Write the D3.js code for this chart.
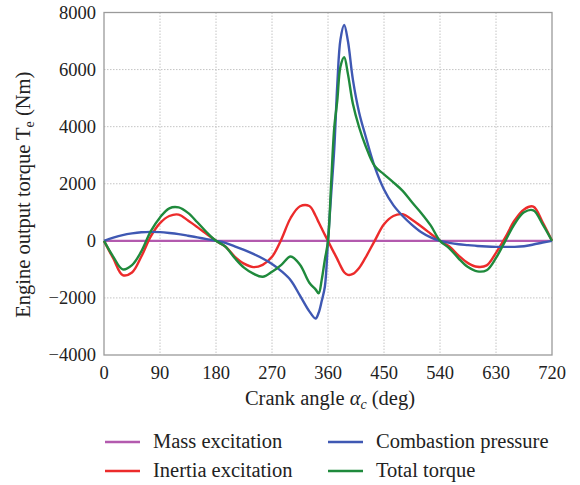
<!DOCTYPE html>
<html>
<head>
<meta charset="utf-8">
<script src="https://cdn.jsdelivr.net/npm/d3@7/dist/d3.min.js"></script>
<style>
  body { margin: 0; background: #fff; }
  svg { display: block; font-family: "Liberation Serif", "DejaVu Serif", serif; }
  .tick-label { font-size: 18.5px; fill: #222; }
  .axis-title { font-size: 20.5px; fill: #222; }
  .legend-text { font-size: 20.5px; fill: #222; }
  .grid line { stroke: #c4c4c4; stroke-width: 1; stroke-dasharray: 1.5,1.5; }
</style>
</head>
<body>
<svg id="chart"></svg>
<script>
// crank angle samples (deg)
const angles = [0, 15, 30, 45, 60, 75, 90, 105, 120, 135, 150, 165, 180,
  195, 210, 225, 240, 255, 270, 285, 300, 315, 330,
  340, 345, 350, 355, 360,
  365, 370, 375, 380, 386, 392, 400, 410, 420,
  435, 450, 465, 480, 495, 510, 525, 540,
  555, 570, 585, 600, 615, 630, 645, 660, 675, 690, 705, 720];

const massAngles = [0, 720];
const massExcitation = [0, 0];

const inertiaExcitation = [0, -620, -1200, -1110, -550, 150, 620, 870, 920, 710, 480, 240, 0,
  -200, -550, -800, -920, -840, -560, 50, 800, 1210, 1220,
  880, 650, 430, 210, 0,
  -220, -430, -640, -870, -1100, -1190, -1160, -950, -600,
  0, 580, 870, 930, 740, 500, 250, 0,
  -200, -520, -780, -910, -860, -420, 120, 720, 1100, 1200, 650, 0];

const combustionPressure = [0, 110, 200, 260, 300, 315, 305, 275, 235, 180, 120, 60, 0,
  -70, -190, -320, -460, -620, -810, -1060, -1380, -1920, -2470,
  -2720, -2520, -2100, -1600, 0,
  1600, 3200, 5500, 7050, 7560, 7000, 5650, 4500, 3700,
  2600, 1800, 1250, 870, 560, 300, 120, 0,
  -70, -120, -150, -180, -200, -210, -210, -210, -190, -130, -60, 0];

const totalTorque = [0, -560, -1000, -850, -370, 330, 820, 1140, 1170, 980, 650, 300, 0,
  -200, -600, -940, -1150, -1260, -1085, -840, -550, -840, -1470,
  -1700, -1840, -1350, -650, 0,
  2000, 3950, 4930, 6100, 6430, 5850, 4800, 3980, 3350,
  2620, 2330, 2050, 1750, 1350, 970, 540, 0,
  -260, -620, -920, -1070, -1030, -600, 0, 600, 1000, 1070, 580, 0];

const xTicks = [0, 90, 180, 270, 360, 450, 540, 630, 720];
const yTicks = [-4000, -2000, 0, 2000, 4000, 6000, 8000];

const series = [
  { name: 'Mass excitation', xs: massAngles, ys: massExcitation, color: '#b35aae' },
  { name: 'Inertia excitation', xs: angles, ys: inertiaExcitation, color: '#ec2b2b' },
  { name: 'Combastion pressure', xs: angles, ys: combustionPressure, color: '#3f58b3' },
  { name: 'Total torque', xs: angles, ys: totalTorque, color: '#1f8a3c' }
];

function render(svgSelector) {
  const totalW = 580, totalH = 485;
  const mg = { top: 12.5, right: 28, bottom: 130, left: 104 };
  const W = totalW - mg.left - mg.right;
  const H = totalH - mg.top - mg.bottom;

  const svg = d3.select(svgSelector).attr('width', totalW).attr('height', totalH);
  const g = svg.append('g').attr('transform', `translate(${mg.left},${mg.top})`);

  const x = d3.scaleLinear().domain([0, 720]).range([0, W]);
  const y = d3.scaleLinear().domain([-4000, 8000]).range([H, 0]);

  // grid
  g.append('g').attr('class', 'grid')
    .selectAll('line.v').data(xTicks.slice(1, -1)).join('line')
    .attr('x1', d => x(d)).attr('x2', d => x(d)).attr('y1', 0).attr('y2', H);
  g.append('g').attr('class', 'grid')
    .selectAll('line.h').data(yTicks.slice(1, -1)).join('line')
    .attr('x1', 0).attr('x2', W).attr('y1', d => y(d)).attr('y2', d => y(d));

  // frame
  g.append('rect').attr('x', 0).attr('y', 0).attr('width', W).attr('height', H)
    .attr('fill', 'none').attr('stroke', '#9a9a9a').attr('stroke-width', 1.3);

  // tick labels
  g.selectAll('text.xt').data(xTicks).join('text')
    .attr('class', 'tick-label').attr('text-anchor', 'middle')
    .attr('x', d => x(d)).attr('y', H + 24).text(d => d);
  g.selectAll('text.yt').data(yTicks).join('text')
    .attr('class', 'tick-label').attr('text-anchor', 'end')
    .attr('x', -8).attr('y', d => y(d) + 6)
    .text(d => d < 0 ? '\u2212' + Math.abs(d) : d);

  // curves
  const line = d3.line()
    .x(d => x(d[0])).y(d => y(d[1]))
    .curve(d3.curveCatmullRom.alpha(0.5));
  series.forEach(s => {
    const pts = s.xs.map((a, i) => [a, s.ys[i]]);
    g.append('path').datum(pts).attr('d', line)
      .attr('fill', 'none').attr('stroke', s.color)
      .attr('stroke-width', 2.4).attr('stroke-linejoin', 'round');
  });

  // axis titles
  const xt = svg.append('text').attr('class', 'axis-title').attr('text-anchor', 'middle')
    .attr('x', mg.left + W / 2 + 2).attr('y', 405);
  xt.append('tspan').text('Crank angle ');
  xt.append('tspan').attr('font-style', 'italic').text('\u03b1');
  xt.append('tspan').attr('font-style', 'italic').attr('font-size', '14px').attr('dy', 4).text('c');
  xt.append('tspan').attr('dy', -4).text(' (deg)');

  const yt = svg.append('text').attr('class', 'axis-title').attr('text-anchor', 'middle')
    .attr('font-size', '20px')
    .attr('transform', `translate(30,${mg.top + H / 2 + 11}) rotate(-90)`);
  yt.append('tspan').text('Engine output torque T');
  yt.append('tspan').attr('font-size', '14px').attr('dy', 4).text('e');
  yt.append('tspan').attr('dy', -4).text(' (Nm)');

  // legend
  const legend = [
    { s: series[0], x: 105, y: 442 },
    { s: series[1], x: 105, y: 471 },
    { s: series[2], x: 328, y: 442 },
    { s: series[3], x: 328, y: 471 }
  ];
  legend.forEach(l => {
    svg.append('line').attr('x1', l.x).attr('x2', l.x + 35)
      .attr('y1', l.y).attr('y2', l.y)
      .attr('stroke', l.s.color).attr('stroke-width', 2.4);
    svg.append('text').attr('class', 'legend-text')
      .attr('x', l.x + 48).attr('y', l.y + 6).text(l.s.name);
  });
}

render('#chart');
</script>
</body>
</html>
